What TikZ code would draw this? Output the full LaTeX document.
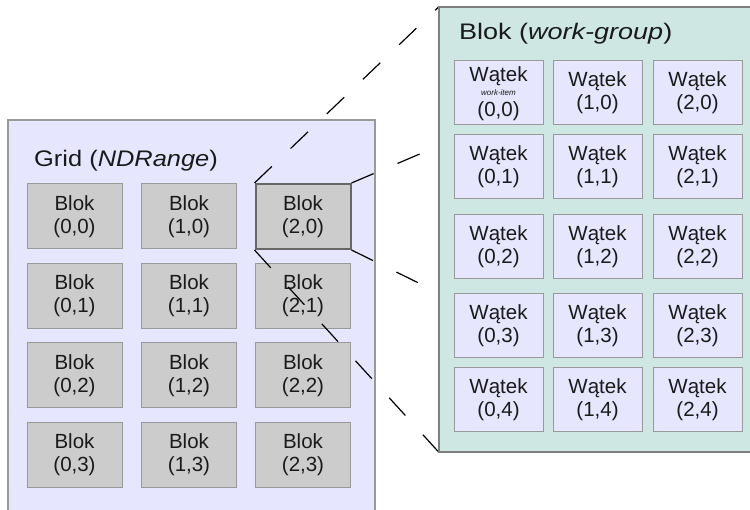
\documentclass[tikz,border=0pt]{standalone}
\usepackage{fontspec}
\setmainfont{Liberation Sans}
\usetikzlibrary{calc}
\definecolor{gridbg}{HTML}{E6E6FF}
\definecolor{blockfill}{HTML}{CCCCCC}
\definecolor{wgbg}{HTML}{CFE7E3}
\definecolor{edge}{HTML}{999999}
\definecolor{wgedge}{HTML}{7F7F7F}
\definecolor{seledge}{HTML}{666666}
\definecolor{txt}{HTML}{1A1A1A}
\begin{document}
\begin{tikzpicture}[x=1pt,y=-1pt,
  panel/.style={draw=edge, fill=gridbg, line width=1.5pt, inner sep=0pt},
  wgpanel/.style={draw=wgedge, fill=wgbg, line width=2.2pt, inner sep=0pt,
    minimum width=321pt, minimum height=445pt},
  title/.style={anchor=base west, inner sep=0pt, text=txt, font=\fontsize{22.5}{26}\selectfont},
  blok/.style={draw=edge, fill=blockfill, line width=1pt, minimum width=95pt,
    minimum height=65pt, inner sep=0pt, align=center, text=txt,
    font=\fontsize{20.5}{23}\selectfont},
  selblok/.style={blok, draw=seledge, line width=2pt},
  watek/.style={draw=edge, fill=gridbg, line width=1pt, minimum width=89pt,
    minimum height=64pt, inner sep=0pt, align=center, text=txt,
    font=\fontsize{20.5}{23}\selectfont},
  wtext/.style={anchor=base, inner sep=0pt, text=txt},
  zoomline/.style={draw=black, line width=1.2pt, dash pattern=on 24pt off 26pt}]

\useasboundingbox (0,0) rectangle (750,510);

% grid (NDRange) panel
\node[panel, minimum width=367pt, minimum height=400pt] (grid) at (191.5,320) {};
\node[title] (gridtitle) at (34,167) {\scalebox{1.13}[1]{Grid (\textit{NDRange})}};

% blocks of the grid
\foreach \c/\x in {0/74.5,1/189}{
  \foreach \r/\y in {0/216.5,1/296,2/375.5,3/455}{
    \node[blok] (b\c\r) at (\x,\y) {Blok\\(\c,\r)};
  }
}
\foreach \r/\y in {1/296,2/375.5,3/455}{
  \node[blok] (b2\r) at (303,\y) {Blok\\(2,\r)};
}
\node[selblok] (b20) at (303,216.5) {Blok\\(2,0)};

% outline of the work-group panel, used as the target of the zoom lines
\node[inner sep=0pt, minimum width=321pt, minimum height=445pt] (wg) at (599.5,229.5) {};
\coordinate (tr) at (441,145);
\coordinate (br) at (441,294);
\draw[zoomline] (b20.north west) -- (wg.north west);
\draw[zoomline] (b20.north east) -- (tr);
\draw[zoomline] (b20.south east) -- (br);
\draw[zoomline] (b20.south west) -- (wg.south west);

% work-group panel, drawn over the zoom lines
\node[wgpanel] (wgbox) at (wg.center) {};
\node[title] (wgtitle) at (459,40) {\scalebox{1.2}[1]{Blok (\textit{work-group})}};

% work-items of the block
\node[watek] (w00) at (498.5,93) {};
\node[wtext, font=\fontsize{20.5}{23}\selectfont] (w00a) at ($(w00.center)+(0,-11.5)$) {W\k{a}tek};
\node[wtext, font=\fontsize{8}{9}\selectfont\itshape] (w00b) at ($(w00.center)+(0,3)$) {work-item};
\node[wtext, font=\fontsize{20.5}{23}\selectfont] (w00c) at ($(w00.center)+(0,23.5)$) {(0,0)};
\foreach \c/\x in {1/597.5,2/697.5}{
  \node[watek] (w\c0) at (\x,93) {W\k{a}tek\\(\c,0)};
}
\foreach \c/\x in {0/498.5,1/597.5,2/697.5}{
  \foreach \r/\y in {1/167,2/246.5,3/325.5,4/400}{
    \node[watek] (w\c\r) at (\x,\y) {W\k{a}tek\\(\c,\r)};
  }
}
\end{tikzpicture}
\end{document}
